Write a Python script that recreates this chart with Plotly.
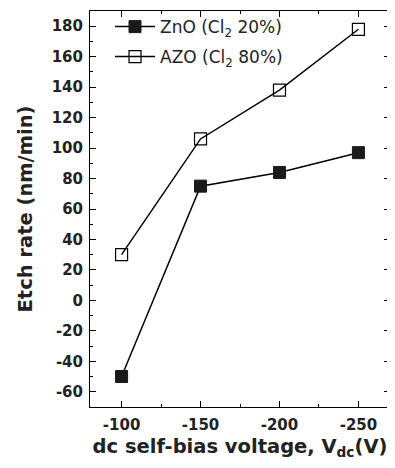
import plotly.graph_objects as go

voltage = [-100, -150, -200, -250]
zno_rate = [-50, 75, 84, 97]
azo_rate = [30, 106, 138, 178]
x_ticks = [-100, -150, -200, -250]
x_labels = ["-100", "-150", "-200", "-250"]
y_ticks = [-60, -40, -20, 0, 20, 40, 60, 80, 100, 120, 140, 160, 180]
y_labels = [str(v) for v in y_ticks]

FONT = "DejaVu Sans, Arial, sans-serif"
TXT = "#222"

fig = go.Figure()
fig.add_trace(go.Scatter(
    x=voltage, y=zno_rate, mode="lines+markers",
    name="ZnO (Cl<sub>2</sub> 20%)", legend="legend",
    line=dict(color="black", width=1.5),
    marker=dict(symbol="square", size=12, color="#1a1a1a",
                line=dict(color="#1a1a1a", width=1)),
))
fig.add_trace(go.Scatter(
    x=voltage, y=azo_rate, mode="lines+markers",
    name="AZO (Cl<sub>2</sub> 80%)", legend="legend2",
    line=dict(color="black", width=1.5),
    marker=dict(symbol="square-open", size=12, color="black",
                line=dict(color="black", width=1.2)),
))

axis_common = dict(
    showline=True, linecolor="black", linewidth=1, mirror="ticks",
    ticks="inside", ticklen=6, tickwidth=1, tickcolor="black",
    showgrid=False, zeroline=False, automargin=False,
    tickfont=dict(family=FONT, size=15, color=TXT, weight="bold"),
)

fig.update_xaxes(
    range=[-80, -270], tickvals=x_ticks, ticktext=x_labels,
    ticklabelstandoff=4,
    minor=dict(dtick=25, tick0=-75, ticks="inside", ticklen=3, tickcolor="black"),
    title=dict(text="dc self-bias voltage, V<sub>dc</sub>(V)",
               font=dict(family=FONT, size=19.5, color=TXT, weight="bold"),
               standoff=6),
    **axis_common,
)
fig.update_yaxes(
    range=[-70, 190], tickvals=y_ticks, ticktext=y_labels,
    ticklabelstandoff=3,
    minor=dict(dtick=10, tick0=0, ticks="inside", ticklen=3, tickcolor="black"),
    title=dict(text="Etch rate (nm/min)",
               font=dict(family=FONT, size=19.5, color=TXT, weight="bold"),
               standoff=13),
    **axis_common,
)

leg_common = dict(xanchor="left", yanchor="middle",
                  bgcolor="rgba(0,0,0,0)", borderwidth=0,
                  font=dict(family=FONT, size=17, color=TXT),
                  itemwidth=40)

fig.update_layout(
    width=387, height=452,
    margin=dict(l=82, r=5, t=2, b=53),
    plot_bgcolor="white", paper_bgcolor="white",
    showlegend=True,
    legend=dict(x=0.0667, y=0.957, **leg_common),
    legend2=dict(x=0.0667, y=0.8816, **leg_common),
)

fig.write_html("out.html")
